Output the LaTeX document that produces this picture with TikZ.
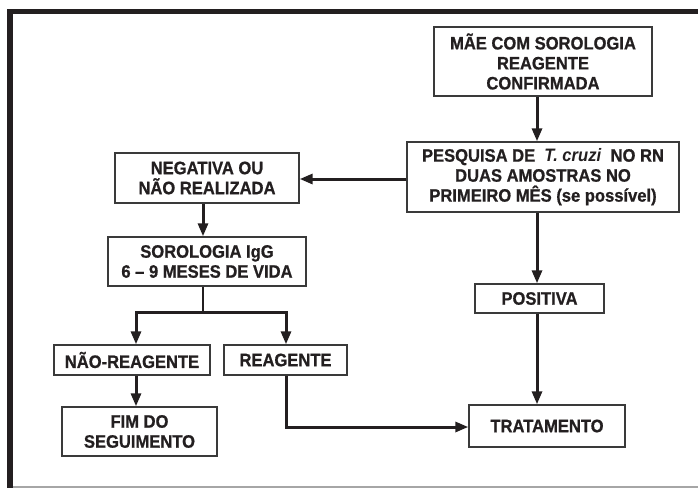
\documentclass[tikz,border=0pt]{standalone}
\usepackage{fontspec}
\setmainfont{Liberation Sans}[FakeStretch=0.92,BoldFeatures={FakeBold=0.8}]
\usetikzlibrary{arrows.meta}
\definecolor{ink}{HTML}{231F20}
\definecolor{boxline}{HTML}{3A3A3A}
\begin{document}
\begin{tikzpicture}[x=1pt,y=-1pt,
  box/.style={draw=boxline,line width=1.4pt,fill=white,inner sep=0pt,align=center,
    text=ink,font=\fontsize{18}{20}\selectfont\bfseries},
  arr/.style={draw=ink,line width=3pt,-{Triangle[length=13pt,width=10pt]}},
  ln/.style={draw=ink,line width=3pt}]
\useasboundingbox (0,0) rectangle (698,488);
% frame
\fill[ink] (7,9) rectangle (698,14);
\fill[ink] (7,9) rectangle (13,488);
\draw[gray!70,line width=1.2pt] (13,487) -- (698,487);
% nodes
\node[box,minimum width=218pt,minimum height=69pt] (mae) at (543,61.5)
  {MÃE COM SOROLOGIA\\REAGENTE\\CONFIRMADA};
\node[box,minimum width=272pt,minimum height=70pt] (pesq) at (543,177)
  {PESQUISA DE \ \textit{T. cruzi} \ NO RN\\DUAS AMOSTRAS NO\\PRIMEIRO MÊS (se possível)};
\node[box,minimum width=184pt,minimum height=50pt] (neg) at (207,178)
  {NEGATIVA OU\\NÃO REALIZADA};
\node[box,minimum width=198pt,minimum height=49pt] (soro) at (207,261.5)
  {SOROLOGIA IgG\\6 – 9 MESES DE VIDA};
\node[box,minimum width=129pt,minimum height=29pt] (pos) at (539.5,298.5)
  {POSITIVA};
\node[box,minimum width=156pt,minimum height=30pt] (nao) at (132,360)
  {NÃO-REAGENTE};
\node[box,minimum width=123pt,minimum height=30pt] (rea) at (285.5,360)
  {REAGENTE};
\node[box,minimum width=155pt,minimum height=49pt] (fim) at (139.5,431.5)
  {FIM DO\\SEGUIMENTO};
\node[box,minimum width=156pt,minimum height=42pt] (trat) at (547,426)
  {TRATAMENTO};
% helper coordinates
\coordinate (tx) at (537,0);
\coordinate (ly) at (0,179);
\coordinate (nx) at (203,0);
\coordinate (by) at (0,312);
\coordinate (lx) at (136,0);
\coordinate (rx) at (286,0);
\coordinate (ry) at (0,427);
\coordinate (branch) at (203,312);
\coordinate (corner) at (286,427);
% connectors
\draw[arr] (mae.south -| tx) -- (pesq.north -| tx);
\draw[arr] (pesq.west |- ly) -- (neg.east |- ly);
\draw[arr] (neg.south -| nx) -- (soro.north -| nx);
\draw[ln,line width=2.2pt] (soro.south -| nx) -- (branch);
\draw[ln,line cap=rect] (lx |- by) -- (rx |- by);
\draw[arr] (lx |- by) -- (nao.north -| lx);
\draw[arr] (rx |- by) -- (rea.north -| rx);
\draw[arr] (nao.south -| lx) -- (fim.north -| lx);
\draw[arr] (rea.south -| rx) -- (corner) -- (trat.west |- ry);
\draw[arr] (pesq.south -| tx) -- (pos.north -| tx);
\draw[arr] (pos.south -| tx) -- (trat.north -| tx);
\end{tikzpicture}
\end{document}
